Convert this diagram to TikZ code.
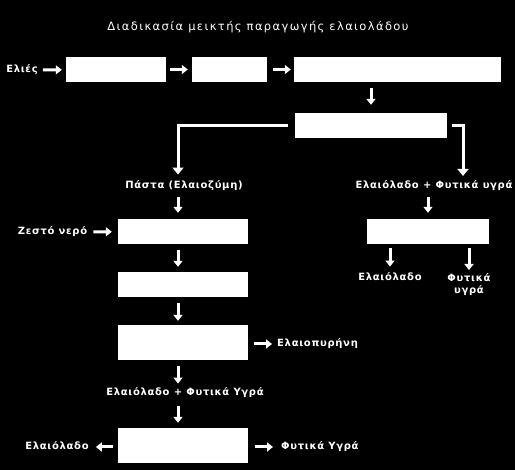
\documentclass[tikz,border=0pt]{standalone}
\usepackage{fontspec}
\setmainfont{DejaVu Sans}
\newfontfamily\titlefont[LetterSpace=12]{DejaVu Sans}
\newfontfamily\lblfont[LetterSpace=7]{DejaVu Sans}
\usetikzlibrary{arrows.meta}
\begin{document}
\begin{tikzpicture}[x=1pt,y=-1pt,
  box/.style={fill=white,draw=none,inner sep=0pt,minimum height=25pt},
  lbl/.style={text=white,inner sep=0pt,text height=7.5pt,text depth=2pt,font=\lblfont\fontsize{10}{12}\selectfont\bfseries},
  arr/.style={draw=white,line width=3pt,-{Triangle[length=6pt,width=9pt]}},
  brl/.style={draw=white,line width=3pt,-{Triangle[length=7pt,width=11pt]}}]
\fill[black] (0,0) rectangle (515,470);
\useasboundingbox (0,0) rectangle (515,470);
\node[text=white,font=\titlefont\fontsize{11.5}{13}\selectfont] (title) at (258,27) {Διαδικασία μεικτής παραγωγής ελαιολάδου};
% top row
\node[lbl] (elies) at (22,70) {Ελιές};
\node[box,minimum width=100pt] (b1) at (116,69.5) {};
\node[box,minimum width=75pt] (b2) at (229.5,69.5) {};
\node[box,minimum width=207pt] (b3) at (397.5,69.5) {};
\node[box,minimum width=152pt] (b4) at (371,125.5) {};
\draw[arr,shorten <=5pt,shorten >=4pt] (elies) -- (b1);
\draw[arr,shorten <=4pt,shorten >=4pt] (b1) -- (b2);
\draw[arr,shorten <=6pt,shorten >=3pt] (b2) -- (b3);
\draw[arr,shorten <=6pt,shorten >=8pt] (b3.south -| b4) -- (b4);
% left column
\coordinate (col) at (178,0);
\node[lbl] (pasta) at (184,186) {Πάστα (Ελαιοζύμη)};
\node[lbl] (water) at (52.5,232) {Ζεστό νερό};
\node[box,minimum width=130pt] (b5) at (183,231.5) {};
\node[box,minimum width=130pt] (b6) at (183,284.5) {};
\node[box,minimum width=130pt,minimum height=35pt] (b7) at (183,342.5) {};
\node[lbl,anchor=west] (pyr) at (277,344) {Ελαιοπυρήνη};
\node[lbl] (mix2) at (185,393) {Ελαιόλαδο + Φυτικά Υγρά};
\node[box,minimum width=130pt,minimum height=35pt] (b8) at (183,445.5) {};
\node[lbl] (oilL) at (57,447) {Ελαιόλαδο};
\node[lbl,anchor=west] (fyt2) at (281,447) {Φυτικά Υγρά};
\draw[brl,shorten <=7pt,shorten >=6.5pt] (b4.west) -| (pasta.north -| col);
\draw[arr,shorten <=6.5pt,shorten >=6pt] (pasta.south -| col) -- (b5.north -| col);
\draw[arr,shorten <=6pt,shorten >=6pt] (water) -- (b5);
\draw[arr,shorten <=6pt,shorten >=5pt] (b5.south -| col) -- (b6.north -| col);
\draw[arr,shorten <=6pt,shorten >=4pt] (b6.south -| col) -- (b7.north -| col);
\draw[arr,shorten <=6pt,shorten >=5pt] (b7.east |- pyr) -- (pyr);
\draw[arr,shorten <=6pt,shorten >=4.5pt] (b7.south -| col) -- (mix2.north -| col);
\draw[arr,shorten <=8.5pt,shorten >=5pt] (mix2.south -| col) -- (b8.north -| col);
\draw[arr,shorten <=5pt,shorten >=7pt] (b8.west |- oilL) -- (oilL);
\draw[arr,shorten <=7pt,shorten >=8pt] (b8.east |- fyt2) -- (fyt2);
% right column
\node[lbl] (mix) at (434,186) {Ελαιόλαδο + Φυτικά υγρά};
\coordinate (rtip) at (463,176);
\node[box,minimum width=122pt] (bR) at (428,231.5) {};
\node[lbl] (oilR) at (390,278) {Ελαιόλαδο};
\node[lbl,align=center,anchor=north,text height=,text depth=,font=\lblfont\fontsize{10}{12}\selectfont\bfseries] (fytR) at (469,273) {Φυτικά\\υγρά};
\draw[brl,shorten <=5pt] (b4.east) -| (rtip);
\draw[arr,shorten <=6.5pt,shorten >=6pt] (mix.south -| bR) -- (bR);
\draw[arr,shorten <=4pt,shorten >=6.5pt] (bR.south -| oilR) -- (oilR);
\draw[arr,shorten <=4pt,shorten >=3pt] (bR.south -| fytR) -- (fytR);
\end{tikzpicture}
\end{document}
